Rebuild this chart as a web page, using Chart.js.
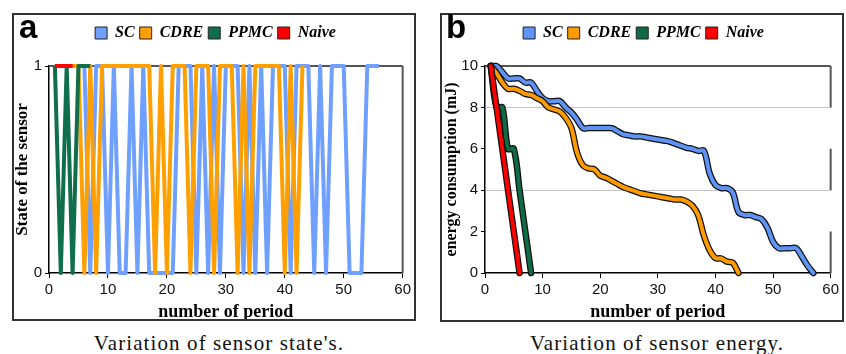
<!DOCTYPE html>
<html>
<head>
<meta charset="utf-8">
<script src="https://cdn.jsdelivr.net/npm/chart.js@4.4.1/dist/chart.umd.min.js"></script>
<style>
body { margin: 0; width: 846px; height: 354px; background: #fff; position: relative; overflow: hidden; }
.box { position: absolute; box-sizing: border-box; border: 2px solid #333; }
.wrap { position: absolute; }
.tag { position: absolute; font-family: 'Liberation Sans', Arial, sans-serif; font-weight: bold; font-size: 33px; line-height: 33px; color: #000; }
.cap { position: absolute; width: 400px; text-align: center; font-family: 'Liberation Serif', serif; font-size: 21px; line-height: 21px; letter-spacing: 1.1px; color: #111; }
</style>
</head>
<body>
<div class="box" style="left:12px;top:13px;width:404px;height:308px"></div>
<div class="box" style="left:440px;top:13px;width:404px;height:309px"></div>
<div class="wrap" style="left:14px;top:15px;width:400px;height:304px"><canvas id="stato"></canvas></div>
<div class="wrap" style="left:442px;top:15px;width:400px;height:305px"><canvas id="energia"></canvas></div>
<div class="tag" style="left:19px;top:10px">a</div>
<div class="tag" style="left:446px;top:10px">b</div>
<div class="cap" style="left:19px;top:333px">Variation of sensor state's.</div>
<div class="cap" style="left:457px;top:333px">Variation of sensor energy.</div>
<script>
const serie = ['SC', 'CDRE', 'PPMC', 'Naive'];
const coloriStato = ['#6fa0ff', '#ffa000', '#0f6e4b', '#ff0000'];
const coloriEnergia = ['#5f93f5', '#ff9a00', '#0f6b45', '#ff0000'];

// stato del sensore, dal periodo 1
const statoSC = [1,1,1,1,1,1,0,1,1,0, 1,0,0,1,0,1,0,0,0,0, 0,1,1,1,0,1,0,1,0,1,
                 1,1,0,1,0,1,0,1,1,1, 0,1,1,1,0,1,0,1,1,1, 0,0,0,1,1,1];
const statoCDRE = [1,1,1,1,1,0,1,0,1,1, 1,1,1,1,1,1,1,0,1,0, 1,1,1,0,1,1,1,0,1,1,
                   1,0,1,0,1,1,1,1,1,0, 1,0,1];
const statoPPMC = [1,0,1,0,1,1,1];
const statoNaive = [1,1,1,1];

// energia residua (mJ), dal periodo 1
const energiaSC = [10.0,10.0,9.7,9.4,9.4,9.4,9.2,9.2,8.8,8.45,
                   8.3,8.3,8.3,8.0,7.75,7.4,7.0,7.0,7.0,7.0,
                   7.0,7.0,6.85,6.7,6.65,6.6,6.6,6.55,6.5,6.45,
                   6.4,6.35,6.25,6.15,6.05,6.0,5.9,5.9,4.8,4.25,
                   4.1,4.1,3.9,2.95,2.8,2.8,2.7,2.6,2.2,1.5,
                   1.2,1.2,1.2,1.2,0.8,0.35,0.0];
const energiaCDRE = [10.0,9.65,9.2,8.9,8.9,8.8,8.65,8.6,8.45,8.3,
                     8.0,7.9,7.8,7.5,7.0,5.8,5.2,5.05,5.0,4.7,
                     4.6,4.45,4.3,4.15,4.05,3.95,3.85,3.8,3.75,3.7,
                     3.65,3.6,3.55,3.55,3.45,3.25,2.8,1.8,1.1,0.72,
                     0.7,0.55,0.5,0.0];
const energiaPPMC = [10, 8, 8, 6, 6, 4, 2, 0];
const energiaNaive = [10, 8, 6, 4, 2, 0];

const punti = arr => arr.map((v, i) => ({ x: i + 1, y: v }));
const fontTick = { family: 'Liberation Sans', size: 15 };
const fontTitolo = size => ({ family: 'Liberation Serif', size: size, weight: 'bold', lineHeight: 1 });

// cornice del grafico (bordo sopra e pezzi a destra) + spazio sotto la legenda
function cornice(lati) {
    return {
        id: 'cornice',
        beforeLayout(chart) {
            const leg = chart.legend;
            if (leg && !leg._allungata) {
                const fit = leg.fit;
                leg.fit = function () { fit.call(this); this.height += 15; };
                leg._allungata = true;
            }
        },
        afterLayout(chart) {
            chart.legend.left += 6;
            chart.legend.right += 6;
        },
        beforeDatasetsDraw(chart) {
            const { ctx, chartArea: a, scales: { y } } = chart;
            ctx.save();
            ctx.strokeStyle = '#555';
            ctx.lineWidth = 2;
            ctx.beginPath();
            ctx.moveTo(a.left, a.top);
            ctx.lineTo(a.right, a.top);
            lati.forEach(([da, fino]) => {
                ctx.moveTo(a.right, y.getPixelForValue(da));
                ctx.lineTo(a.right, y.getPixelForValue(fino));
            });
            ctx.stroke();
            ctx.restore();
        }
    };
}

function legenda() {
    return {
        position: 'top',
        labels: {
            boxWidth: 12,
            boxHeight: 12,
            padding: 5,
            color: '#000',
            font: { family: 'Liberation Serif', size: 16, weight: 'bold', style: 'italic' },
            generateLabels: chart => chart.data.datasets
                .map((ds, i) => ({ text: ds.label, fillStyle: ds.backgroundColor, strokeStyle: '#222', lineWidth: 1, hidden: false, datasetIndex: i }))
                .filter(it => it.text),
            sort: (a, b) => a.datasetIndex - b.datasetIndex
        }
    };
}

function asseX(altezza, padBottom) {
    return {
        type: 'linear', min: 0, max: 60,
        ticks: { stepSize: 10, color: '#111', font: fontTick, padding: 3, maxRotation: 0 },
        grid: { drawOnChartArea: false, tickLength: 5, tickColor: '#000' },
        border: { display: true, color: '#000', width: 1.5 },
        title: { display: true, text: 'number of period', color: '#000', font: fontTitolo(18), padding: { top: 0, bottom: padBottom } },
        afterFit: s => { s.height = altezza; }
    };
}

// grafico a: stato
const statiAll = [statoSC, statoCDRE, statoPPMC, statoNaive];
new Chart(document.getElementById('stato'), {
    type: 'line',
    data: {
        datasets: serie.map((nome, i) => ({
            label: nome,
            data: punti(statiAll[i]),
            borderColor: coloriStato[i],
            backgroundColor: coloriStato[i],
            borderWidth: 4,
            borderJoinStyle: 'round',
            pointRadius: 0,
            tension: 0,
            clip: false,
            order: 4 - i
        }))
    },
    options: {
        responsive: true,
        maintainAspectRatio: false,
        animation: false,
        devicePixelRatio: 1,
        layout: { padding: { top: 5, right: 9, bottom: 0, left: 0 } },
        plugins: { legend: legenda(), tooltip: { enabled: false } },
        scales: {
            x: asseX(46, -2.5),
            y: {
                min: 0, max: 1,
                ticks: { stepSize: 1, color: '#111', font: fontTick, padding: 3 },
                grid: { drawOnChartArea: false, tickLength: 4, tickColor: '#000' },
                border: { display: true, color: '#000', width: 1.5 },
                title: { display: true, text: 'State of the sensor', color: '#000', font: fontTitolo(17), padding: { top: 0, bottom: 0 } },
                afterFit: s => { s.width = 35; }
            }
        }
    },
    plugins: [cornice([[1, 0]])]
});

// grafico b: energia
const energieAll = [energiaSC, energiaCDRE, energiaPPMC, energiaNaive];
const datiEnergia = [];
serie.forEach((nome, i) => {
    datiEnergia.push({
        label: '',
        data: punti(energieAll[i]),
        borderColor: '#111',
        borderWidth: 6.5,
        borderJoinStyle: 'round',
        borderCapStyle: 'round',
        pointRadius: 0,
        tension: 0.35,
        clip: false,
        order: (4 - i) * 2
    });
    datiEnergia.push({
        label: nome,
        data: punti(energieAll[i]),
        borderColor: coloriEnergia[i],
        backgroundColor: coloriEnergia[i],
        borderWidth: 4,
        borderJoinStyle: 'round',
        borderCapStyle: 'round',
        pointRadius: 0,
        tension: 0.35,
        clip: false,
        order: (4 - i) * 2 - 1
    });
});

new Chart(document.getElementById('energia'), {
    type: 'line',
    data: { datasets: datiEnergia },
    options: {
        responsive: true,
        maintainAspectRatio: false,
        animation: false,
        devicePixelRatio: 1,
        layout: { padding: { top: 5, right: 9, bottom: 0, left: 0 } },
        plugins: { legend: legenda(), tooltip: { enabled: false } },
        scales: {
            x: asseX(47, -1.5),
            y: {
                min: 0, max: 10,
                ticks: { stepSize: 2, color: '#111', font: fontTick, padding: 3 },
                grid: {
                    color: c => (c.tick && (c.tick.value === 8 || c.tick.value === 4)) ? '#c4c4c4' : 'rgba(0,0,0,0)',
                    tickLength: 4,
                    tickColor: '#000'
                },
                border: { display: true, color: '#000', width: 1.5 },
                title: { display: true, text: 'energy consumption (mJ)', color: '#000', font: fontTitolo(16), padding: { top: 2, bottom: 0 } },
                afterFit: s => { s.width = 43; }
            }
        }
    },
    plugins: [cornice([[10, 8], [6, 4], [2, 0]])]
});
</script>
</body>
</html>
